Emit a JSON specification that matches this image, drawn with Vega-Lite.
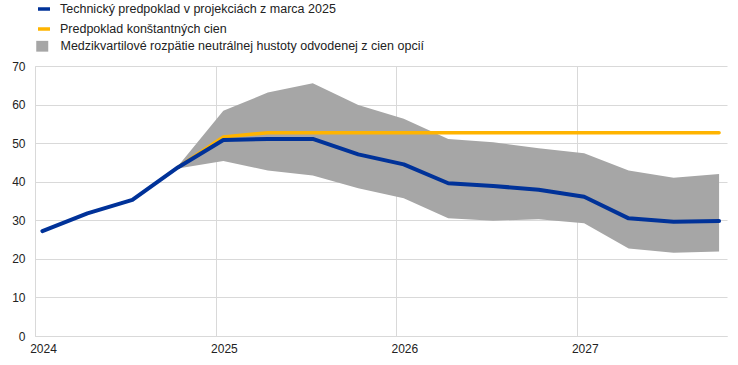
{
  "$schema": "https://vega.github.io/schema/vega-lite/v6.json",
  "width": 692,
  "height": 270,
  "autosize": "none",
  "padding": {"left": 35, "top": 66, "right": 11, "bottom": 29},
  "config": {
    "font": "Liberation Sans",
    "view": {"stroke": null},
    "axis": {"labelFont": "Liberation Sans", "labelFontSize": 12, "labelColor": "#222", "gridColor": "#d9d9d9", "domainColor": "#d9d9d9", "tickSize": 0, "ticks": false},
    "legend": {"labelFont": "Liberation Sans", "labelFontSize": 12.5, "labelColor": "#222", "labelLimit": 600}
  },
  "datasets": {
    "lines": [
      {"date": "2024-01-16", "series": "Technický predpoklad v projekciách z marca 2025", "value": 27.2},
      {"date": "2024-04-16", "series": "Technický predpoklad v projekciách z marca 2025", "value": 31.8},
      {"date": "2024-07-16", "series": "Technický predpoklad v projekciách z marca 2025", "value": 35.3},
      {"date": "2024-10-16", "series": "Technický predpoklad v projekciách z marca 2025", "value": 43.7},
      {"date": "2025-01-16", "series": "Technický predpoklad v projekciách z marca 2025", "value": 50.8},
      {"date": "2025-04-16", "series": "Technický predpoklad v projekciách z marca 2025", "value": 51.1},
      {"date": "2025-07-16", "series": "Technický predpoklad v projekciách z marca 2025", "value": 51.1},
      {"date": "2025-10-16", "series": "Technický predpoklad v projekciách z marca 2025", "value": 47.1},
      {"date": "2026-01-16", "series": "Technický predpoklad v projekciách z marca 2025", "value": 44.5},
      {"date": "2026-04-16", "series": "Technický predpoklad v projekciách z marca 2025", "value": 39.6},
      {"date": "2026-07-16", "series": "Technický predpoklad v projekciách z marca 2025", "value": 38.9},
      {"date": "2026-10-16", "series": "Technický predpoklad v projekciách z marca 2025", "value": 37.9},
      {"date": "2027-01-16", "series": "Technický predpoklad v projekciách z marca 2025", "value": 36.1},
      {"date": "2027-04-16", "series": "Technický predpoklad v projekciách z marca 2025", "value": 30.5},
      {"date": "2027-07-16", "series": "Technický predpoklad v projekciách z marca 2025", "value": 29.6},
      {"date": "2027-10-16", "series": "Technický predpoklad v projekciách z marca 2025", "value": 29.8},
      {"date": "2024-10-16", "series": "Predpoklad konštantných cien", "value": 43.7},
      {"date": "2025-01-16", "series": "Predpoklad konštantných cien", "value": 51.6},
      {"date": "2025-04-16", "series": "Predpoklad konštantných cien", "value": 52.7},
      {"date": "2025-07-16", "series": "Predpoklad konštantných cien", "value": 52.7},
      {"date": "2025-10-16", "series": "Predpoklad konštantných cien", "value": 52.7},
      {"date": "2026-01-16", "series": "Predpoklad konštantných cien", "value": 52.7},
      {"date": "2026-04-16", "series": "Predpoklad konštantných cien", "value": 52.7},
      {"date": "2026-07-16", "series": "Predpoklad konštantných cien", "value": 52.7},
      {"date": "2026-10-16", "series": "Predpoklad konštantných cien", "value": 52.7},
      {"date": "2027-01-16", "series": "Predpoklad konštantných cien", "value": 52.7},
      {"date": "2027-04-16", "series": "Predpoklad konštantných cien", "value": 52.7},
      {"date": "2027-07-16", "series": "Predpoklad konštantných cien", "value": 52.7},
      {"date": "2027-10-16", "series": "Predpoklad konštantných cien", "value": 52.7}
    ],
    "band": [
      {"date": "2024-10-16", "series": "Medzikvartilové rozpätie neutrálnej hustoty odvodenej z cien opcií", "lo": 43.4, "hi": 44.0},
      {"date": "2025-01-16", "series": "Medzikvartilové rozpätie neutrálnej hustoty odvodenej z cien opcií", "lo": 45.4, "hi": 58.4},
      {"date": "2025-04-16", "series": "Medzikvartilové rozpätie neutrálnej hustoty odvodenej z cien opcií", "lo": 42.9, "hi": 63.1},
      {"date": "2025-07-16", "series": "Medzikvartilové rozpätie neutrálnej hustoty odvodenej z cien opcií", "lo": 41.6, "hi": 65.5},
      {"date": "2025-10-16", "series": "Medzikvartilové rozpätie neutrálnej hustoty odvodenej z cien opcií", "lo": 38.3, "hi": 59.9},
      {"date": "2026-01-16", "series": "Medzikvartilové rozpätie neutrálnej hustoty odvodenej z cien opcií", "lo": 35.7, "hi": 56.3},
      {"date": "2026-04-16", "series": "Medzikvartilové rozpätie neutrálnej hustoty odvodenej z cien opcií", "lo": 30.5, "hi": 51.1},
      {"date": "2026-07-16", "series": "Medzikvartilové rozpätie neutrálnej hustoty odvodenej z cien opcií", "lo": 29.9, "hi": 50.2},
      {"date": "2026-10-16", "series": "Medzikvartilové rozpätie neutrálnej hustoty odvodenej z cien opcií", "lo": 30.3, "hi": 48.7},
      {"date": "2027-01-16", "series": "Medzikvartilové rozpätie neutrálnej hustoty odvodenej z cien opcií", "lo": 29.2, "hi": 47.4},
      {"date": "2027-04-16", "series": "Medzikvartilové rozpätie neutrálnej hustoty odvodenej z cien opcií", "lo": 22.7, "hi": 42.9},
      {"date": "2027-07-16", "series": "Medzikvartilové rozpätie neutrálnej hustoty odvodenej z cien opcií", "lo": 21.6, "hi": 41.0},
      {"date": "2027-10-16", "series": "Medzikvartilové rozpätie neutrálnej hustoty odvodenej z cien opcií", "lo": 21.9, "hi": 42.0}
    ]
  },
  "encoding": {
    "x": {
      "field": "date",
      "type": "temporal",
      "title": null,
      "scale": {"type": "utc", "domain": [{"year": 2024, "month": 1, "date": 1, "utc": true}, {"year": 2027, "month": 11, "date": 1, "utc": true}]},
      "axis": {
        "values": [{"year": 2024, "month": 1, "date": 1, "utc": true}, {"year": 2025, "month": 1, "date": 1, "utc": true}, {"year": 2026, "month": 1, "date": 1, "utc": true}, {"year": 2027, "month": 1, "date": 1, "utc": true}],
        "format": "%Y",
        "formatType": "utc",
        "labelOffset": 8,
        "labelPadding": 7,
        "labelFlush": false,
        "grid": true
      }
    }
  },
  "layer": [
    {
      "data": {"name": "band"},
      "mark": {"type": "area", "opacity": 1, "interpolate": "linear"},
      "encoding": {
        "y": {"field": "lo", "type": "quantitative", "title": null, "scale": {"domain": [0, 70]}, "axis": {"values": [0, 10, 20, 30, 40, 50, 60, 70], "labelPadding": 10, "grid": true, "labelOverlap": false, "domainColor": "#d9d9d9"}},
        "y2": {"field": "hi"},
        "fill": {
          "field": "series",
          "type": "nominal",
          "scale": {"range": ["#a6a6a6"]},
          "legend": {
            "title": null,
            "orient": "none",
            "legendX": 1,
            "legendY": -26,
            "symbolType": "M-1,-0.9H1V0.9H-1Z",
            "symbolSize": 144,
            "symbolStrokeWidth": 0,
            "symbolOpacity": 1,
            "labelOffset": 12
          }
        }
      }
    },
    {
      "data": {"name": "lines"},
      "transform": [{"filter": "datum.series === 'Predpoklad konštantných cien'"}],
      "mark": {"type": "line", "strokeWidth": 3.5, "strokeCap": "round", "strokeJoin": "round"},
      "encoding": {
        "y": {"field": "value", "type": "quantitative", "title": null, "scale": {"domain": [0, 70]}, "axis": {"values": [0, 10, 20, 30, 40, 50, 60, 70], "labelPadding": 10, "grid": true, "labelOverlap": false, "domainColor": "#d9d9d9"}},
        "color": {
          "field": "series",
          "type": "nominal",
          "scale": {
            "domain": ["Technický predpoklad v projekciách z marca 2025", "Predpoklad konštantných cien"],
            "range": ["#003299", "#ffb400"]
          },
          "legend": {
            "title": null,
            "orient": "none",
            "legendX": 1,
            "legendY": -65,
            "direction": "vertical",
            "symbolType": "stroke",
            "symbolSize": 144,
            "symbolStrokeWidth": 3.5,
            "rowPadding": 5,
            "labelOffset": 8
          }
        }
      }
    },
    {
      "data": {"name": "lines"},
      "transform": [{"filter": "datum.series !== 'Predpoklad konštantných cien'"}],
      "mark": {"type": "line", "strokeWidth": 4, "strokeCap": "round", "strokeJoin": "round"},
      "encoding": {
        "y": {"field": "value", "type": "quantitative", "title": null, "scale": {"domain": [0, 70]}, "axis": {"values": [0, 10, 20, 30, 40, 50, 60, 70], "labelPadding": 10, "grid": true, "labelOverlap": false, "domainColor": "#d9d9d9"}},
        "color": {"field": "series", "type": "nominal"}
      }
    }
  ]
}
